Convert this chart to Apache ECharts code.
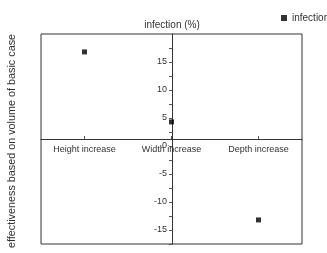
<!DOCTYPE html>
<html>
<head>
<meta charset="utf-8">
<script src="https://cdn.jsdelivr.net/npm/echarts@6/dist/echarts.min.js"></script>
<style>
  html, body { margin: 0; padding: 0; background: #fff; }
  #chart { width: 327px; height: 253px; }
</style>
</head>
<body>
<div id="chart"></div>
<script>
// categories along the x axis, placed at -1, 0, 1
let categories = ['Height increase', 'Width increase', 'Depth increase'];
let positions = [-1, 0, 1];
// infection (%) per case
let infection = [16.8, 4.3, -13.2];
let yTicks = [-15, -10, -5, 0, 5, 10, 15];
let yMinorTicks = [-17.5, -15, -12.5, -10, -7.5, -5, -2.5, 0, 2.5, 5, 7.5, 10, 12.5, 15, 17.5];

let seriesData = positions.map(function (p, i) { return [p, infection[i]]; });

let chart = echarts.init(document.getElementById('chart'));

let option = {
  animation: false,
  textStyle: { fontFamily: 'Liberation Sans, Arial, sans-serif' },
  grid: {
    left: 41, right: 25, top: 34, bottom: 9,
    show: true, borderColor: '#333', borderWidth: 1
  },
  legend: {
    left: 276, top: 8,
    itemWidth: 6, itemHeight: 6, itemGap: 6,
    textStyle: { fontSize: 10, color: '#333' },
    data: [{ name: 'infection', icon: 'rect' }]
  },
  xAxis: {
    type: 'value',
    min: -1.5, max: 1.5,
    position: 'bottom',
    offset: -105,
    axisLine: { onZero: false, lineStyle: { color: '#333' } },
    axisTick: { show: true, length: 3, inside: true, customValues: positions, lineStyle: { color: '#555' } },
    axisLabel: {
      customValues: positions,
      fontSize: 9, color: '#333', margin: 6,
      formatter: function (v) { return categories[positions.indexOf(v)] || ''; }
    },
    splitLine: { show: false }
  },
  yAxis: {
    type: 'value',
    min: -17.5, max: 20,
    position: 'left',
    offset: -131,
    name: 'infection (%)',
    nameLocation: 'end',
    nameGap: 4,
    nameTextStyle: { fontSize: 10, color: '#333', align: 'center' },
    axisLine: { show: true, onZero: false, lineStyle: { color: '#333' } },
    axisTick: { show: true, length: 3, customValues: yMinorTicks, lineStyle: { color: '#555' } },
    axisLabel: { customValues: yTicks, fontSize: 9, color: '#333', margin: 5 },
    splitLine: { show: false }
  },
  graphic: [{
    type: 'text',
    rotation: Math.PI / 2,
    x: 12, y: 141,
    style: {
      text: 'effectiveness based on volume of basic case',
      fontSize: 10.8,
      fill: '#333',
      align: 'center',
      verticalAlign: 'middle',
      fontFamily: 'Liberation Sans, Arial, sans-serif'
    }
  }],
  series: [{
    name: 'infection',
    type: 'scatter',
    symbol: 'rect',
    symbolSize: 5,
    itemStyle: { color: '#000' },
    data: seriesData
  }]
};

chart.setOption(option);
</script>
</body>
</html>
